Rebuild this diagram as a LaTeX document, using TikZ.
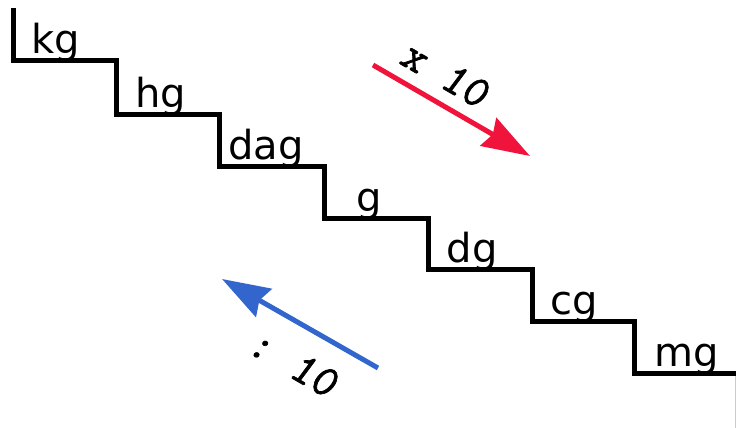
\documentclass[tikz,border=0pt]{standalone}
\usepackage{fontspec}
\setmainfont{DejaVu Sans}
\newfontfamily\factorfont{Latin Modern Mono}[FakeSlant=0.12, FakeBold=1.5]
\usetikzlibrary{arrows.meta}

\definecolor{upred}{RGB}{240,20,60}
\definecolor{downblue}{RGB}{51,102,204}

\begin{document}
\begin{tikzpicture}[x=1pt, y=-1pt,
    unit/.style={anchor=base, font=\fontsize{40}{40}\selectfont},
    factor/.style={rotate=-30, font=\factorfont\fontsize{45}{45}\selectfont},
    bigarrow/.style={line width=5pt, -{Stealth[length=48pt, width=32pt, inset=5pt]}}]
            \useasboundingbox (0,0) rectangle (736,428);

            % the stairs
            \draw[line width=5pt] (13,8) -- (13,61) -- (116,61) -- (116,114) -- (219,114) -- (219,166)
                -- (324,166) -- (324,218) -- (428,218) -- (428,269) -- (532,269) -- (532,321)
                -- (634,321) -- (634,373) -- (736,373);
            \draw[gray!40, line width=1pt] (735,376) -- (735,428);

            \node[unit] (kg) at (56,54) {kg};
            \node[unit] (hg) at (161,107) {hg};
            \node[unit] (dag) at (266,159) {dag};
            \node[unit] (g) at (369,211) {g};
            \node[unit] (dg) at (472,262) {dg};
            \node[unit] (cg) at (574,314) {cg};
            \node[unit] (mg) at (687,366) {mg};

            \coordinate (mulstart) at (373,65);
            \coordinate (mulend) at (530,156);
            \coordinate (divstart) at (378,368);
            \coordinate (divend) at (222,279);

            \draw[bigarrow, upred] (mulstart) -- (mulend);
            \draw[bigarrow, downblue] (divstart) -- (divend);

            \node[factor] (mul) at (445,74) {x 10};
            \node[factor] (div) at (293,363) {:\hspace{-0.12em} 10};
        \end{tikzpicture}
\end{document}
